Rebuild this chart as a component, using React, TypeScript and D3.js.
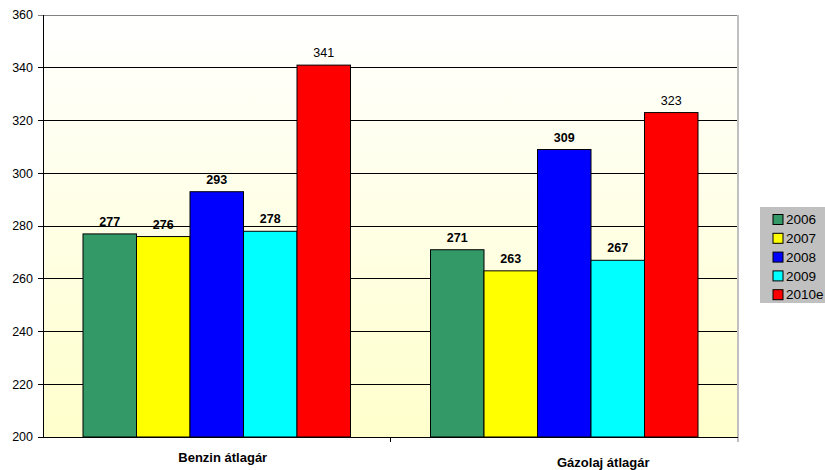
import React from "react";
import * as d3 from "d3";

const categories = ["Benzin átlagár", "Gázolaj átlagár"];
const seriesNames = ["2006", "2007", "2008", "2009", "2010e"];
const seriesColors = ["#339966", "#FFFF00", "#0000FF", "#00FFFF", "#FF0000"];
const benzinValues = [277, 276, 293, 278, 341];
const gazolajValues = [271, 263, 309, 267, 323];
const boldLabels = [true, true, true, true, false];
const yTicks = [200, 220, 240, 260, 280, 300, 320, 340, 360];

const W = 825;
const H = 470;
const plot = { left: 43, top: 15, right: 738, bottom: 437 };
const catLabelDx = [6, 39];
const catLabelY = [457, 462];

export default function App() {
  const values = [benzinValues, gazolajValues];
  const y = d3.scaleLinear().domain([200, 360]).range([plot.bottom, plot.top]);
  const x0 = d3
    .scaleBand()
    .domain(categories)
    .range([plot.left, plot.right])
    .paddingInner(0)
    .paddingOuter(0);
  const groupPad = 40;
  const x1 = d3
    .scaleBand()
    .domain(seriesNames)
    .range([groupPad, x0.bandwidth() - groupPad]);

  return (
    <svg
      width={W}
      height={H}
      style={{ position: "absolute", left: 0, top: 0, fontFamily: "Liberation Sans, Arial, sans-serif" }}
    >
      <defs>
        <linearGradient id="bg" x1="0" y1="0" x2="0" y2="1">
          <stop offset="0%" stopColor="#FFFFFF" />
          <stop offset="100%" stopColor="#FFFFCC" />
        </linearGradient>
      </defs>
      <rect x={0} y={0} width={W} height={H} fill="#FFFFFF" />
      <rect
        x={plot.left}
        y={plot.top}
        width={plot.right - plot.left}
        height={plot.bottom - plot.top}
        fill="url(#bg)"
      />
      {yTicks.map((t, i) => (
        <line
          key={"g" + t}
          x1={plot.left - 5}
          x2={plot.right}
          y1={y(t)}
          y2={y(t)}
          stroke={i === yTicks.length - 1 ? "#808080" : "#000000"}
          strokeWidth={1}
          shapeRendering="crispEdges"
        />
      ))}
      <line
        x1={plot.right}
        x2={plot.right}
        y1={plot.top}
        y2={plot.bottom + 5}
        stroke="#C0C0C0"
        strokeWidth={1.5}
        shapeRendering="crispEdges"
      />
      {yTicks.map((t) => (
        <text key={"t" + t} x={33} y={y(t)} dy="0.35em" textAnchor="end" fontSize={12.5} fill="#000">
          {t}
        </text>
      ))}
      {categories.map((c, ci) => (
        <g key={c} transform={`translate(${x0(c)},0)`}>
          {seriesNames.map((s, si) => {
            const v = values[ci][si];
            const bx = x1(s) as number;
            return (
              <g key={s}>
                <rect
                  x={bx}
                  y={y(v)}
                  width={x1.bandwidth()}
                  height={plot.bottom - y(v)}
                  fill={seriesColors[si]}
                  stroke="#000"
                  strokeWidth={1}
                />
                <text
                  x={bx + x1.bandwidth() / 2}
                  y={y(v) - 8}
                  textAnchor="middle"
                  fontSize={12.5}
                  fontWeight={boldLabels[si] ? "bold" : "normal"}
                  fill="#000"
                >
                  {v}
                </text>
              </g>
            );
          })}
        </g>
      ))}
      <line x1={plot.left} x2={plot.right} y1={plot.bottom} y2={plot.bottom} stroke="#000" shapeRendering="crispEdges" />
      {categories.map((c, i) => (
        <line
          key={"xt" + i}
          x1={(x0(c) as number) + x0.bandwidth()}
          x2={(x0(c) as number) + x0.bandwidth()}
          y1={plot.bottom}
          y2={plot.bottom + 5}
          stroke={i === categories.length - 1 ? "#C0C0C0" : "#000"}
          shapeRendering="crispEdges"
        />
      ))}
      <line x1={plot.left} x2={plot.left} y1={plot.top} y2={plot.bottom} stroke="#000" shapeRendering="crispEdges" />
      {categories.map((c, i) => (
        <text
          key={"cl" + i}
          x={(x0(c) as number) + x0.bandwidth() / 2 + catLabelDx[i]}
          y={catLabelY[i]}
          dy="0.35em"
          textAnchor="middle"
          fontSize={13}
          fontWeight="bold"
          fill="#000"
        >
          {c}
        </text>
      ))}
      <g>
        <rect x={760} y={207} width={65} height={96} fill="#C0C0C0" />
        {seriesNames.map((s, i) => (
          <g key={"lg" + s} transform={`translate(773, ${219.5 + i * 18.8})`}>
            <rect x={0} y={-5} width={10} height={10} fill={seriesColors[i]} stroke="#000" strokeWidth={1} />
            <text x={13} y={0} dy="0.35em" fontSize={13.5} fill="#000">
              {s}
            </text>
          </g>
        ))}
      </g>
    </svg>
  );
}
